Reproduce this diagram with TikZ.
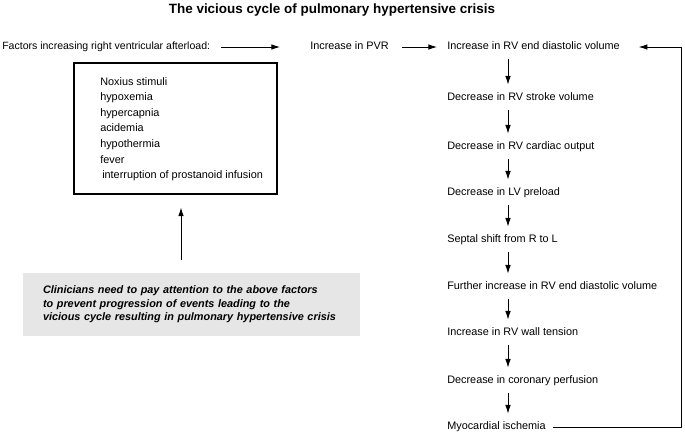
\documentclass[tikz,border=0pt]{standalone}
\usepackage{fontspec}
\setmainfont{Liberation Sans}
\usetikzlibrary{arrows.meta}
\definecolor{notegray}{RGB}{230,230,230}

\begin{document}
\begin{tikzpicture}[x=0.75pt,y=0.75pt,yscale=-1,xscale=1,
  txt/.style={inner sep=0pt, font=\fontsize{8.15}{9.8}\selectfont, text height=6pt, text depth=1.7pt},
  flow/.style={txt, anchor=west},
  arr/.style={line width=0.65pt, -{Latex[length=6.5pt,width=4.2pt]}}]
\useasboundingbox (0,0) rectangle (685,432);

% Title
\draw (332,10) node [font=\bfseries\fontsize{10.1}{12}\selectfont] (title) {The vicious cycle of pulmonary hypertensive crisis};

% Text Node
\draw (2,47) node [flow, font=\fontsize{7.9}{9.8}\selectfont] (factors) {Factors increasing right ventricular afterload:};
% Text Node
\draw (310,47) node [flow] (pvr) {Increase in PVR};

%Shape: Rectangle (factors box)
\draw (175.5,128.5) node [draw, line width=0.8pt, minimum width=152.25pt, minimum height=98.25pt] (box) {};
% Text Node
\draw (100,129) node [anchor=west, inner sep=0pt, align=left, font=\fontsize{8.15}{11.7}\selectfont] (items) {Noxius stimuli\\hypoxemia\\hypercapnia\\acidemia\\hypothermia\\fever\\\hspace*{1.5pt}interruption of prostanoid infusion};

%Shape: Rectangle (grey note)
\draw (191.5,304.5) node [fill=notegray, inner xsep=15pt, text width=222.75pt, minimum height=47.25pt, align=left, font=\bfseries\itshape\fontsize{8.15}{10.1}\selectfont] (note) {Clinicians need to pay attention to the above factors\\to prevent progression of events leading to the\\vicious cycle resulting in pulmonary hypertensive crisis};

% Right column
\draw (447,47) node [flow] (r1) {Increase in RV end diastolic volume};
\draw (447,98) node [flow] (r2) {Decrease in RV stroke volume};
\draw (447,147) node [flow] (r3) {Decrease in RV cardiac output};
\draw (447,193) node [flow] (r4) {Decrease in LV preload};
\draw (447,240) node [flow] (r5) {Septal shift from R to L};
\draw (447,287) node [flow] (r6) {Further increase in RV end diastolic volume};
\draw (447,333) node [flow] (r7) {Increase in RV wall tension};
\draw (447,381) node [flow] (r8) {Decrease in coronary perfusion};
\draw (447,427) node [flow] (r9) {Myocardial ischemia};

\coordinate (ax) at (508,0);
\coordinate (upx) at (181,0);
\coordinate (fbx) at (681,0);

% Arrows
\draw [arr, shorten <=8pt, shorten >=22.5pt] (factors.east) -- (pvr.west);
\draw [arr, shorten <=10pt, shorten >=7.5pt] (pvr.east) -- (r1.west);
\draw [arr, shorten <=9.75pt, shorten >=9.75pt] (note.north -| upx) -- (box.south -| upx);

\draw [arr, shorten <=5.25pt, shorten >=6pt] (r1.south -| ax) -- (r2.north -| ax);
\draw [arr, shorten <=5.25pt, shorten >=6pt] (r2.south -| ax) -- (r3.north -| ax);
\draw [arr, shorten <=5.25pt, shorten >=6pt] (r3.south -| ax) -- (r4.north -| ax);
\draw [arr, shorten <=5.25pt, shorten >=6pt] (r4.south -| ax) -- (r5.north -| ax);
\draw [arr, shorten <=5.25pt, shorten >=6pt] (r5.south -| ax) -- (r6.north -| ax);
\draw [arr, shorten <=5.25pt, shorten >=6pt] (r6.south -| ax) -- (r7.north -| ax);
\draw [arr, shorten <=5.25pt, shorten >=6pt] (r7.south -| ax) -- (r8.north -| ax);
\draw [arr, shorten <=5.25pt, shorten >=6pt] (r8.south -| ax) -- (r9.north -| ax);

% feedback loop
\draw [arr, shorten <=5pt, shorten >=14pt] (r9.east) -- (r9.east -| fbx) -- (r1.east -| fbx) -- (r1.east);

\end{tikzpicture}
\end{document}
